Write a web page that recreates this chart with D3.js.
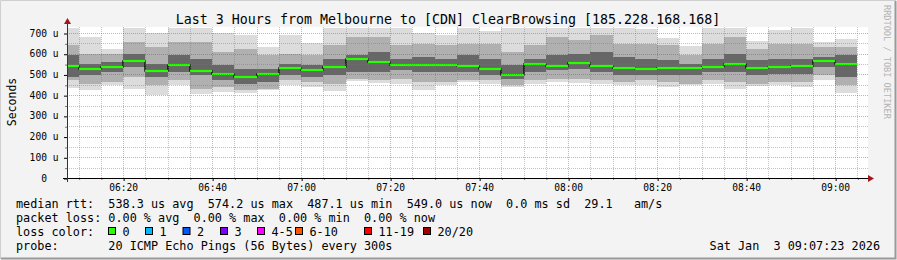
<!DOCTYPE html>
<html>
<head>
<meta charset="utf-8">
<script src="https://cdn.jsdelivr.net/npm/d3@7"></script>
<style>
  html, body { margin: 0; padding: 0; background: #f3f3f3; }
  svg { display: block; font-family: "DejaVu Sans Mono", monospace; }
  .pre { white-space: pre; }
</style>
</head>
<body>
<svg id="chart" width="897" height="260"></svg>
<script>

// ---- Data (microseconds) ----

// End time of each 5-minute smokeping step
var endTimes = ["06:10","06:15","06:20","06:25","06:30","06:35","06:40","06:45","06:50","06:55",
                "07:00","07:05","07:10","07:15","07:20","07:25","07:30","07:35","07:40","07:45",
                "07:50","07:55","08:00","08:05","08:10","08:15","08:20","08:25","08:30","08:35",
                "08:40","08:45","08:50","08:55","09:00","09:05"];

var medians   = [542,528,537,566,518,547,518,504,487,504, 531,521,537,574,562,547,547,547,542,528,
                 499,551,542,553,542,531,526,531,531,537, 549,533,537,542,566,549];

// smoke: outer (slowest/fastest ping), mid band and dark band round the median
var pingMax   = [724,682,622,724,702,724,724,702,690,632, 688,650,724,724,724,724,702,688,724,710,
                 724,724,724,724,724,724,718,678,638,724, 724,661,715,724,657,673];
var upperMid  = [644,600,600,657,632,657,657,608,624,592, 600,592,640,681,681,640,649,640,649,649,
                 608,640,681,665,689,649,649,640,592,649, 681,624,649,649,632,632];
var upperDark = [592,552,560,600,552,592,576,544,528,528, 552,544,576,592,608,576,584,576,592,576,
                 544,576,592,600,608,584,576,568,552,576, 600,568,576,576,584,592];
var lowerDark = [488,496,512,536,488,512,496,471,455,463, 496,488,496,512,512,520,512,512,512,496,
                 480,512,520,528,512,496,496,496,496,512, 512,496,504,504,536,488];
var lowerMid  = [471,455,463,488,447,471,431,439,423,431, 471,463,455,480,471,480,463,463,471,471,
                 447,471,480,480,471,463,471,463,455,471, 463,455,463,463,496,447];
var pingMin   = [436,425,447,431,400,447,406,415,409,424, 448,438,422,466,460,456,424,448,462,453,
                 438,454,463,460,455,450,449,439,449,453, 431,445,449,441,475,410];

var yTicks     = [0,100,200,300,400,500,600,700];
var lossLabels = ["0","1","2","3","4-5","6-10","11-19","20/20"];
var lossColors = ["#26ff00","#00b8ff","#0059ff","#7e00ff","#ff00ff","#ff5500","#ff0000","#a10000"];

var titleText  = "Last 3 Hours from Melbourne to [CDN] ClearBrowsing [185.228.168.168]";
var legendRtt  = "median rtt:  538.3 us avg  574.2 us max  487.1 us min  549.0 us now  0.0 ms sd  29.1   am/s";
var legendLoss = "packet loss: 0.00 % avg  0.00 % max  0.00 % min  0.00 % now";
var legendProbe = "probe:       20 ICMP Echo Pings (56 Bytes) every 300s";
var stampText  = "Sat Jan  3 09:07:23 2026";

// ---- Layout ----

var PLOT_L = 67, PLOT_R = 868, PLOT_T = 27, PLOT_B = 178;
var LOSS_X = [108.5, 145.5, 183, 220.5, 257.5, 295.5, 364.5, 423.5];

var day = function(h, m, s) { return new Date(2026, 0, 3, h, m, s || 0); };
var parseHM = function(str) {
	var p = str.split(":");
	return day(+p[0], +p[1]);
};
var ends = endTimes.map(parseHM);

var svg = d3.select("#chart");

// background and 3d-ish frame
svg.append("rect").attr("width", 897).attr("height", 260).attr("fill", "#f3f3f3");
svg.append("path").attr("d", "M0.5,259V0.5H896").attr("stroke", "#cfcfcf").attr("fill", "none");
svg.append("path").attr("d", "M1,258.5H895.5V1").attr("stroke", "#9a9a9a").attr("stroke-width", 2).attr("fill", "none");

var x = d3.scaleTime()
	.domain([day(6, 7, 23), day(9, 7, 23)])
	.range([PLOT_L, PLOT_R]);

var y = d3.scaleLinear()
	.domain([0, 730])
	.range([PLOT_B, 26.8]);

svg.append("rect")
	.attr("x", PLOT_L).attr("y", PLOT_T)
	.attr("width", PLOT_R - PLOT_L).attr("height", PLOT_B - PLOT_T)
	.attr("fill", "#ffffff");

svg.append("clipPath").attr("id", "plotClip")
  .append("rect")
	.attr("x", PLOT_L).attr("y", PLOT_T)
	.attr("width", PLOT_R - PLOT_L).attr("height", PLOT_B - PLOT_T);

var plot = svg.append("g").attr("clip-path", "url(#plotClip)");

var colX0 = function(i) { return Math.round(x(d3.timeMinute.offset(ends[i], -5))); };
var colX1 = function(i) { return Math.round(x(ends[i])); };

// smoke layers, outermost first
var layers = [
	{ lo: pingMin,   hi: pingMax,   color: "#dcdcdc" },
	{ lo: lowerMid,  hi: upperMid,  color: "#b0b0b0" },
	{ lo: lowerDark, hi: upperDark, color: "#676767" }
];

layers.forEach(function(layer) {
	plot.append("g").selectAll("rect")
		.data(endTimes)
		.join("rect")
		  .attr("x", function(d, i) { return colX0(i); })
		  .attr("width", function(d, i) { return colX1(i) - colX0(i); })
		  .attr("y", function(d, i) { return Math.round(y(layer.hi[i])); })
		  .attr("height", function(d, i) { return Math.round(y(layer.lo[i])) - Math.round(y(layer.hi[i])); })
		  .attr("fill", layer.color);
});

// grid (drawn over the smoke, as rrdtool does)
var minorTimes = d3.timeMinute.every(5).range(x.domain()[0], x.domain()[1])
	.filter(function(t) { return t.getMinutes() % 20 !== 0; });
var majorTimes = d3.timeMinute.every(20).range(x.domain()[0], x.domain()[1]);
var minorVals  = d3.range(50, 730, 100);
var majorVals  = yTicks.filter(function(v) { return v > 0; });

var grid = svg.append("g").attr("stroke-dasharray", "1,1").attr("fill", "none");

grid.selectAll("line.vmin").data(minorTimes).join("line")
	.attr("x1", function(d) { return Math.round(x(d)) + 0.5; })
	.attr("x2", function(d) { return Math.round(x(d)) + 0.5; })
	.attr("y1", PLOT_T).attr("y2", PLOT_B)
	.attr("stroke", "rgba(120,120,120,0.45)");
grid.selectAll("line.hmin").data(minorVals).join("line")
	.attr("y1", function(d) { return Math.round(y(d)) + 0.5; })
	.attr("y2", function(d) { return Math.round(y(d)) + 0.5; })
	.attr("x1", PLOT_L).attr("x2", PLOT_R)
	.attr("stroke", "rgba(120,120,120,0.45)");
grid.selectAll("line.vmaj").data(majorTimes).join("line")
	.attr("x1", function(d) { return Math.round(x(d)) + 0.5; })
	.attr("x2", function(d) { return Math.round(x(d)) + 0.5; })
	.attr("y1", PLOT_T).attr("y2", PLOT_B)
	.attr("stroke", "rgba(235,40,40,0.45)");
grid.selectAll("line.hmaj").data(majorVals).join("line")
	.attr("y1", function(d) { return Math.round(y(d)) + 0.5; })
	.attr("y2", function(d) { return Math.round(y(d)) + 0.5; })
	.attr("x1", PLOT_L).attr("x2", PLOT_R)
	.attr("stroke", "rgba(235,40,40,0.45)");

// median: dark step outline, then loss-coloured segments
var stepPts = [[colX0(0), medians[0]]].concat(medians.map(function(m, i) { return [colX1(i), m]; }));
plot.append("path")
	.attr("d", d3.line()
		.x(function(d) { return d[0]; })
		.y(function(d) { return Math.round(y(d[1])); })
		.curve(d3.curveStepBefore)(stepPts))
	.attr("fill", "none")
	.attr("stroke", "#111")
	.attr("stroke-width", 1.5);

plot.append("g").selectAll("line")
	.data(medians)
	.join("line")
	  .attr("x1", function(d, i) { return colX0(i); })
	  .attr("x2", function(d, i) { return colX1(i); })
	  .attr("y1", function(d) { return Math.round(y(d)); })
	  .attr("y2", function(d) { return Math.round(y(d)); })
	  .attr("stroke", lossColors[0])
	  .attr("stroke-width", 2.2);

// axes
var xAxis = svg.append("g")
	.attr("transform", "translate(0," + PLOT_B + ")")
	.call(d3.axisBottom(x)
		.tickValues(majorTimes)
		.tickFormat(d3.timeFormat("%H:%M"))
		.tickSize(3)
		.tickPadding(3));
xAxis.select(".domain").remove();
xAxis.selectAll("text").attr("font-size", "9.6px").attr("font-family", "DejaVu Sans Mono").attr("fill", "#000");
xAxis.selectAll("line").attr("stroke", "#000").attr("transform", "translate(0.5,0)");

var xMinor = svg.append("g")
	.attr("transform", "translate(0," + PLOT_B + ")")
	.call(d3.axisBottom(x).tickValues(minorTimes).tickSize(2).tickFormat(""));
xMinor.select(".domain").remove();
xMinor.selectAll("line").attr("stroke", "#777").attr("transform", "translate(0.5,0)");

var yAxis = svg.append("g")
	.attr("transform", "translate(" + PLOT_L + ",0)")
	.call(d3.axisLeft(y)
		.tickValues(yTicks)
		.tickFormat(function(v) { return v === 0 ? "0\u00a0\u00a0" : v + " u"; })
		.tickSize(3)
		.tickPadding(5.5));
yAxis.select(".domain").remove();
yAxis.selectAll("text").attr("font-size", "9.6px").attr("font-family", "DejaVu Sans Mono").attr("fill", "#000");
yAxis.selectAll("line").attr("stroke", "#000").attr("transform", "translate(0,0.5)");

var yMinor = svg.append("g")
	.attr("transform", "translate(" + PLOT_L + ",0)")
	.call(d3.axisLeft(y).tickValues(minorVals).tickSize(2).tickFormat(""));
yMinor.select(".domain").remove();
yMinor.selectAll("line").attr("stroke", "#777").attr("transform", "translate(0,0.5)");

// axis lines with arrow heads
svg.append("line")
	.attr("x1", PLOT_L - 4).attr("x2", PLOT_R + 1)
	.attr("y1", PLOT_B + 0.5).attr("y2", PLOT_B + 0.5)
	.attr("stroke", "#000");
svg.append("line")
	.attr("x1", PLOT_L + 0.5).attr("x2", PLOT_L + 0.5)
	.attr("y1", PLOT_B + 4).attr("y2", PLOT_T - 3)
	.attr("stroke", "#333");
svg.append("path")
	.attr("d", "M" + PLOT_R + "," + (PLOT_B - 3) + "L" + (PLOT_R + 6) + "," + (PLOT_B + 0.5) + "L" + PLOT_R + "," + (PLOT_B + 4) + "Z")
	.attr("fill", "#a01818");
svg.append("path")
	.attr("d", "M" + (PLOT_L - 3) + "," + (PLOT_T - 3) + "L" + (PLOT_L + 0.5) + "," + (PLOT_T - 9) + "L" + (PLOT_L + 4) + "," + (PLOT_T - 3) + "Z")
	.attr("fill", "#a01818");

// texts
svg.append("text")
	.attr("x", 448).attr("y", 23.5)
	.attr("text-anchor", "middle")
	.attr("font-size", "13.3px")
	.text(titleText);

svg.append("text")
	.attr("transform", "translate(15.5,102) rotate(-90)")
	.attr("text-anchor", "middle")
	.attr("font-size", "11.5px")
	.text("Seconds");

svg.append("text")
	.attr("transform", "translate(884,5) rotate(90)")
	.attr("font-size", "8.6px")
	.attr("fill", "#b4b4b4")
	.text("RRDTOOL / TOBI OETIKER");

var legend = svg.append("g").attr("font-size", "11.8px").attr("fill", "#000");

legend.append("text").attr("class", "pre").attr("x", 16).attr("y", 208).text(legendRtt);
legend.append("text").attr("class", "pre").attr("x", 16).attr("y", 222).text(legendLoss);
legend.append("text").attr("class", "pre").attr("x", 16).attr("y", 236).text("loss color:");
legend.append("text").attr("class", "pre").attr("x", 16).attr("y", 250).text(legendProbe);
legend.append("text").attr("x", 880).attr("y", 250).attr("text-anchor", "end").attr("class", "pre").text(stampText);

var lossItems = legend.selectAll("g.loss")
	.data(lossLabels)
	.join("g")
	  .attr("class", "loss")
	  .attr("transform", function(d, i) { return "translate(" + LOSS_X[i] + ",0)"; });
lossItems.append("rect")
	.attr("x", 0).attr("y", 227.5)
	.attr("width", 7).attr("height", 7)
	.attr("fill", function(d, i) { return lossColors[i]; })
	.attr("stroke", "#000");
lossItems.append("text")
	.attr("x", 14).attr("y", 236)
	.text(function(d) { return d; });

</script>
</body>
</html>
